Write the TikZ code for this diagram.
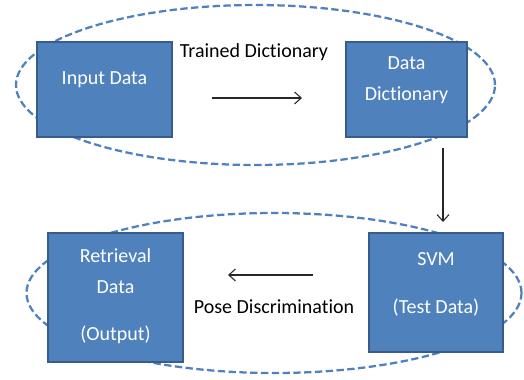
\documentclass[tikz,border=0pt]{standalone}
\usepackage{fontspec}
\setmainfont{Carlito}[Ligatures=NoCommon]
\usetikzlibrary{shapes.geometric, arrows.meta, positioning}
\definecolor{boxblue}{RGB}{79, 129, 189}
\definecolor{boxedge}{RGB}{56, 93, 138}
\definecolor{ringblue}{RGB}{79, 129, 189}
\tikzset{
  box/.style={draw=boxedge, fill=boxblue, line width=1.1pt, inner sep=0pt},
  boxtext/.style={text=white, align=center, font=\fontsize{15}{23.25}\selectfont},
  caption/.style={text=black, font=\fontsize{15}{18}\selectfont},
  ring/.style={ellipse, draw=ringblue, line width=1.7pt, dash pattern=on 5.5pt off 2.6pt, inner sep=0pt},
  flow/.style={draw=black!85, line width=0.8pt, -{Straight Barb[length=5pt, width=9pt, line width=0.8pt]}}
}
\begin{document}
\begin{tikzpicture}[x=0.75pt, y=-0.75pt]
  \useasboundingbox (0,0) rectangle (524,379);

  % dashed groups
  \node[ring, minimum width=359.25pt, minimum height=120pt] (topring) at (255.5, 85) {};
  \node[ring, minimum width=371.25pt, minimum height=120pt] (botring) at (274, 293) {};

  % training stage
  \node[box, minimum width=101.25pt, minimum height=71.25pt] (input) at (104.5, 89.5) {};
  \node[boxtext] (inputtxt) at (104.5, 80) {Input Data};

  \node[box, minimum width=90.75pt, minimum height=71.25pt] (dict) at (406.5, 89.5) {};
  \node[boxtext] (dicttxt) at (406.5, 80.5) {Data\\Dictionary};

  \node[caption] (trained) at (254, 52) {Trained Dictionary};

  % testing stage
  \node[box, minimum width=101.25pt, minimum height=96.75pt] (retr) at (115.5, 297.5) {};
  \node[boxtext] (retrtxt) at (115.5, 296) {Retrieval\\Data\\[12pt](Output)};

  \node[box, minimum width=100.5pt, minimum height=89.25pt] (svm) at (436, 292.5) {};
  \node[boxtext] (svmtxt) at (436, 284) {SVM\\[12.75pt](Test Data)};

  \node[caption] (pose) at (274, 307) {Pose Discrimination};

  % connectors
  \coordinate (a1) at (212, 98);
  \coordinate (a2) at (302, 98);
  \coordinate (b1) at (443, 148);
  \coordinate (b2) at (443, 222);
  \coordinate (c1) at (313, 275);
  \coordinate (c2) at (228, 275);
  \draw[flow] (a1) -- (a2);
  \draw[flow] (b1) -- (b2);
  \draw[flow] (c1) -- (c2);
\end{tikzpicture}
\end{document}
